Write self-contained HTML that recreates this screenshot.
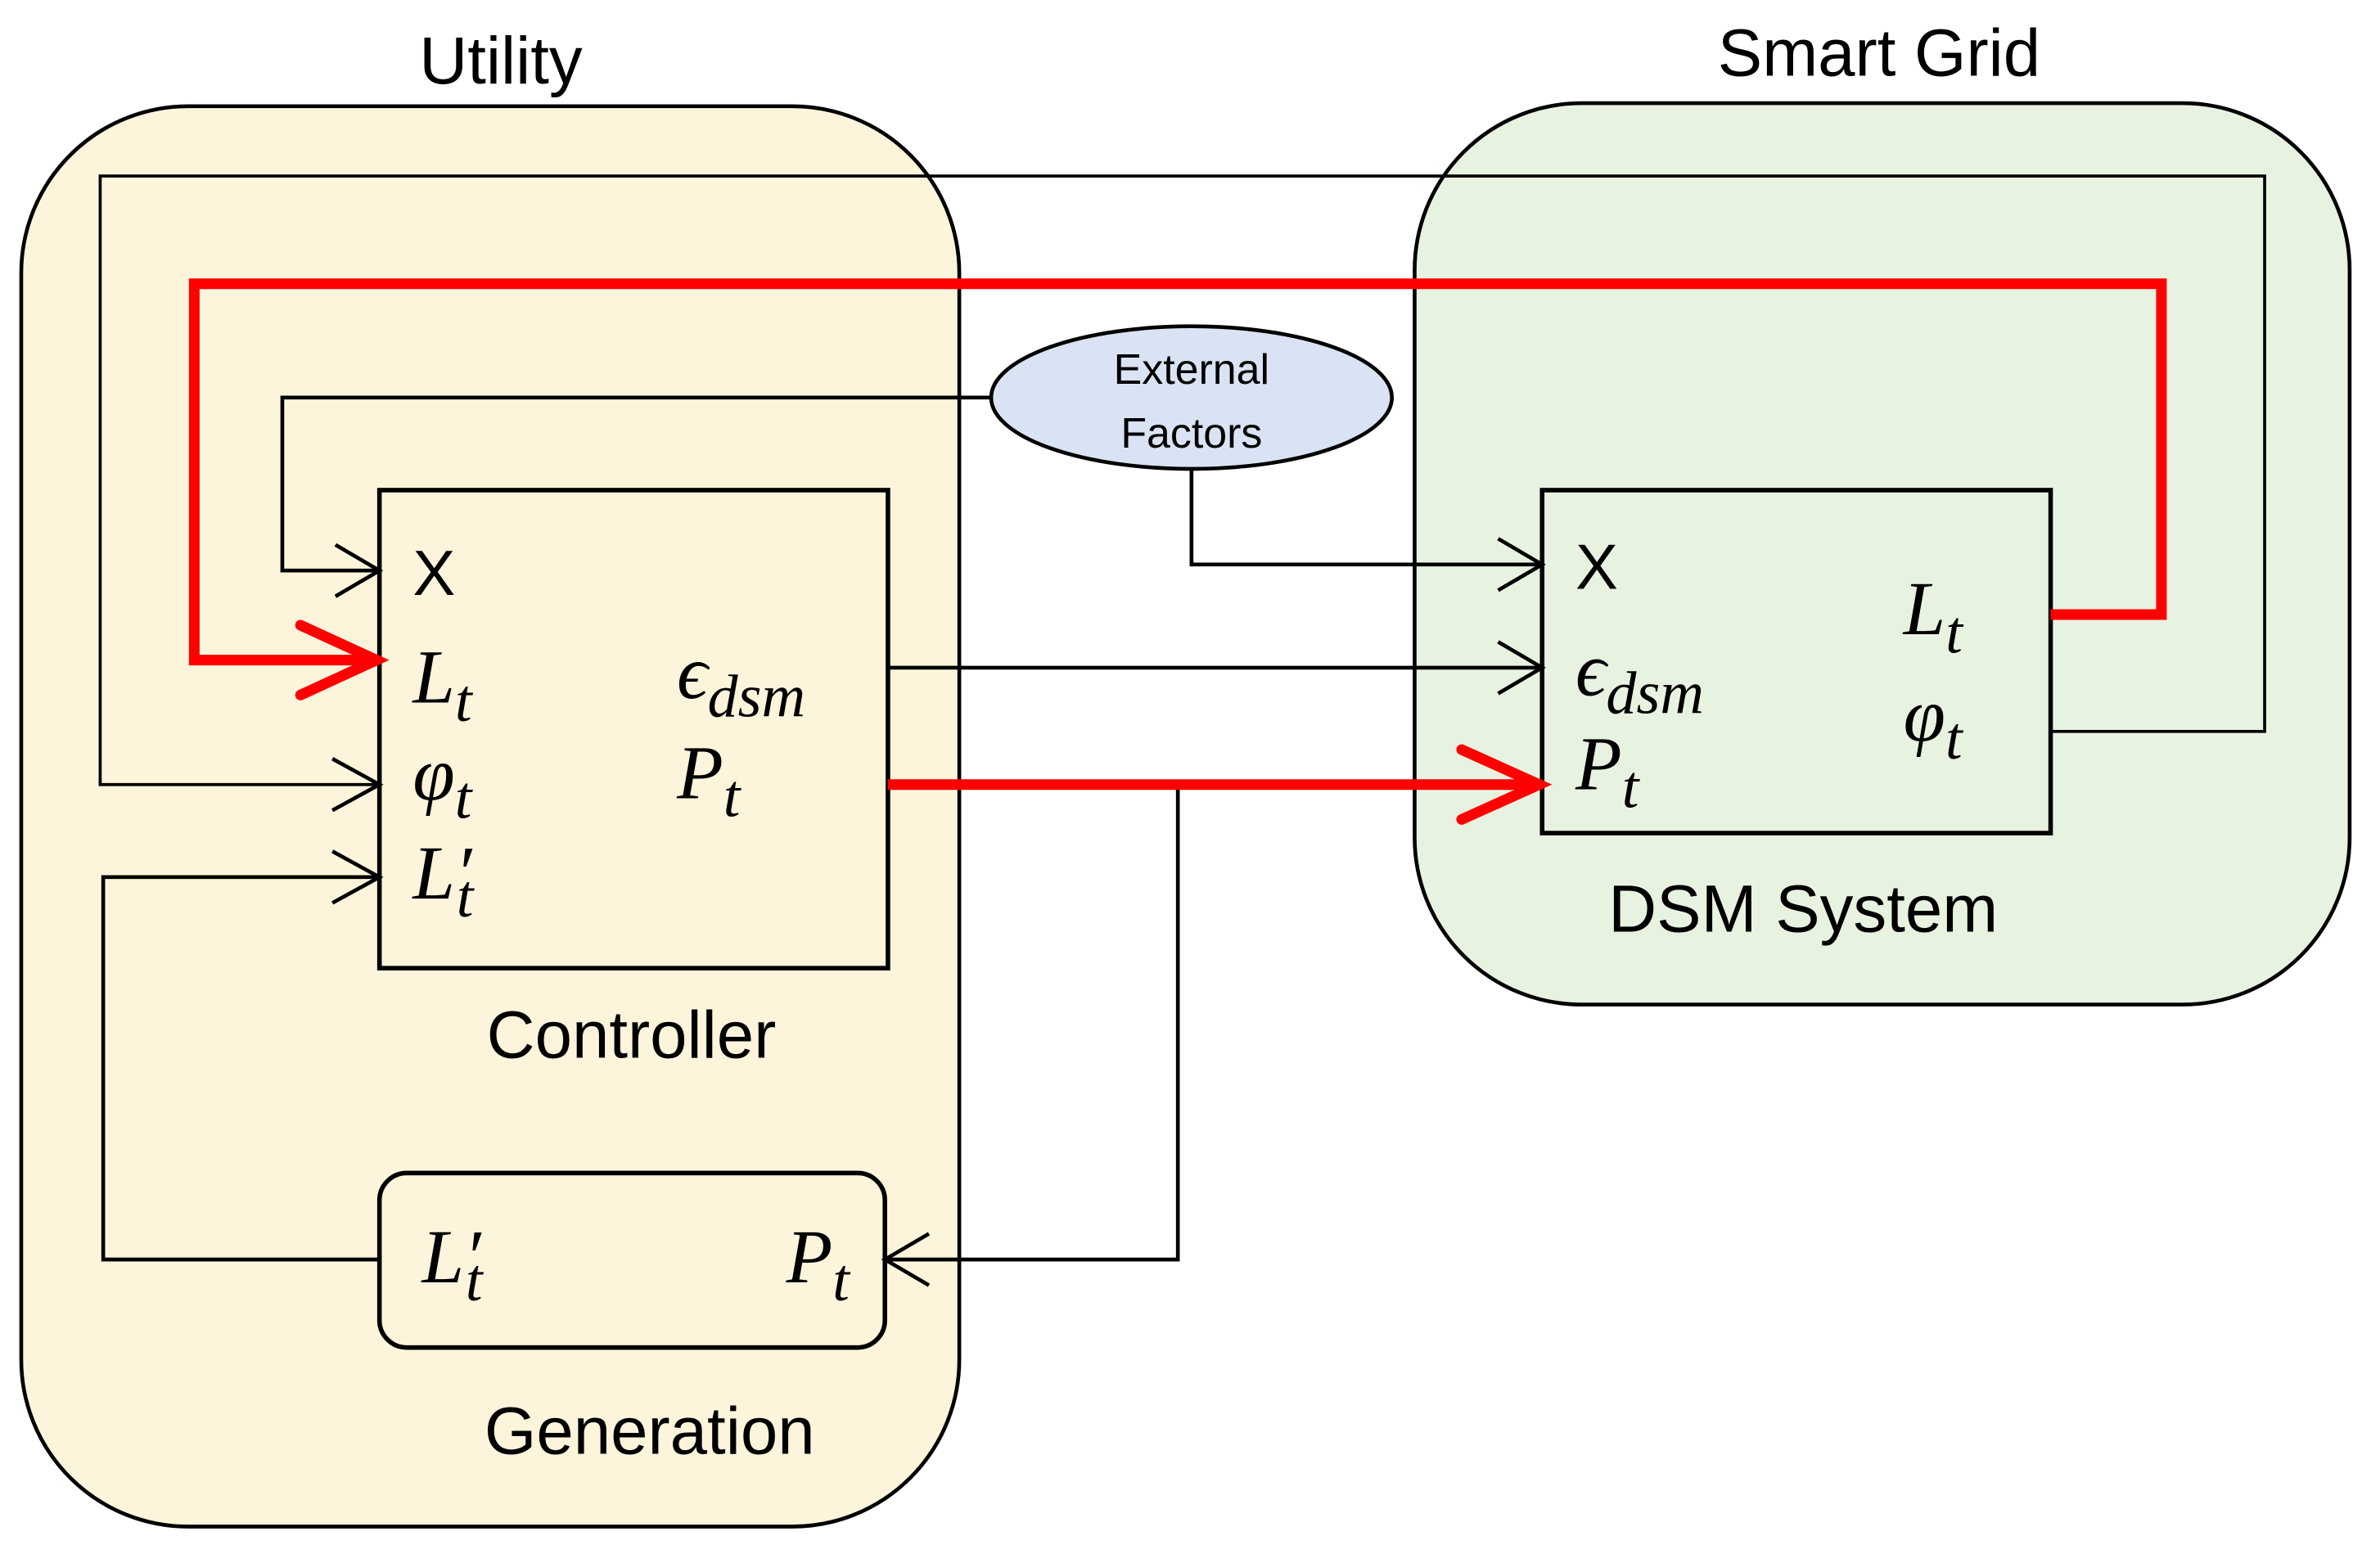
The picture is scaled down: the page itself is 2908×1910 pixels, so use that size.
<!DOCTYPE html>
<html><head><meta charset="utf-8"><style>
html,body{margin:0;padding:0;background:#fff}
svg{display:block}
.s{font-family:"Liberation Sans",sans-serif;fill:#000}
.m{font-family:"Liberation Serif",serif;font-style:italic;fill:#000;font-size:50px}
.sub{font-size:40px}
</style></head><body>
<svg width="2908" height="1910" viewBox="0 0 1568 1030" preserveAspectRatio="none" xmlns="http://www.w3.org/2000/svg">
<rect x="14" y="70" width="618" height="936" rx="110" fill="#fdf4dc" stroke="#000" stroke-width="2.5"/>
<rect x="932" y="68" width="616" height="594" rx="110" fill="#e8f2e0" stroke="#000" stroke-width="2.5"/>
<text x="330" y="55" class="s" font-size="44" text-anchor="middle">Utility</text>
<text x="1238" y="50" class="s" font-size="44" text-anchor="middle">Smart Grid</text>

<rect x="250" y="323" width="335" height="315" fill="#fdf4dc" stroke="#000" stroke-width="3"/>
<rect x="250" y="773" width="333" height="115" rx="18" fill="#fdf4dc" stroke="#000" stroke-width="3"/>
<rect x="1016" y="323" width="335" height="226" fill="#e8f2e0" stroke="#000" stroke-width="3"/>
<text x="416" y="697" class="s" font-size="44" text-anchor="middle">Controller</text>
<text x="428" y="958" class="s" font-size="44" text-anchor="middle">Generation</text>
<text x="1188" y="614" class="s" font-size="44" text-anchor="middle">DSM System</text>

<g fill="none" stroke="#000" stroke-width="2.5">
<polyline points="653,262 186,262 186,376 250,376"/>
<polyline points="785,309 785,372 1016,372"/>
<line x1="585" y1="440" x2="1016" y2="440"/>
<polyline points="1351,482 1492,482 1492,116 66,116 66,517 250,517" stroke-width="2"/>
<polyline points="250,830 68,830 68,578 250,578"/>
<polyline points="776,517 776,830 583,830"/>
<polyline points="221,359 250,376 221,393"/>
<polyline points="987,355 1016,372 987,389"/>
<polyline points="987,423 1016,440 987,457"/>
<polyline points="219,500 250,517 219,534"/>
<polyline points="219,561 250,578 219,595"/>
<polyline points="612,813 583,830 612,847"/>
</g>
<ellipse cx="785" cy="262" rx="132" ry="47" fill="#dae3f3" stroke="#000" stroke-width="2.5"/>
<text x="785" y="253" class="s" font-size="28" text-anchor="middle">External</text>
<text x="785" y="295" class="s" font-size="28" text-anchor="middle">Factors</text>

<g fill="none" stroke="#ff0000" stroke-width="7" stroke-linecap="round">
<polyline points="585,517 1016,517" stroke-linecap="butt"/>
<polyline points="963,494 1014,517 963,540"/>
<polyline points="1351,405 1424,405 1424,187 128,187 128,435 248,435" stroke-linecap="butt"/>
<polyline points="198,412 248,435 198,458"/>
</g>

<text x="272" y="392" class="s" font-size="42">X</text>
<text x="272" y="463" class="m">L<tspan class="sub" dy="12">t</tspan></text>
<text x="272" y="527" class="m">φ<tspan class="sub" dy="12">t</tspan></text>
<text x="272" y="592" class="m">L′<tspan class="sub" dy="12" dx="-10">t</tspan></text>
<text x="446" y="460" class="m">ϵ<tspan class="sub" dy="12">dsm</tspan></text>
<text x="446" y="526" class="m">P<tspan class="sub" dy="12">t</tspan></text>
<text x="278" y="845" class="m">L′<tspan class="sub" dy="12" dx="-10">t</tspan></text>
<text x="518" y="845" class="m">P<tspan class="sub" dy="12">t</tspan></text>
<text x="1038" y="388" class="s" font-size="42">X</text>
<text x="1038" y="458" class="m">ϵ<tspan class="sub" dy="12">dsm</tspan></text>
<text x="1038" y="520" class="m">P<tspan class="sub" dy="12">t</tspan></text>
<text x="1254" y="418" class="m">L<tspan class="sub" dy="12">t</tspan></text>
<text x="1254" y="488" class="m">φ<tspan class="sub" dy="12">t</tspan></text>
</svg>
</body></html>
